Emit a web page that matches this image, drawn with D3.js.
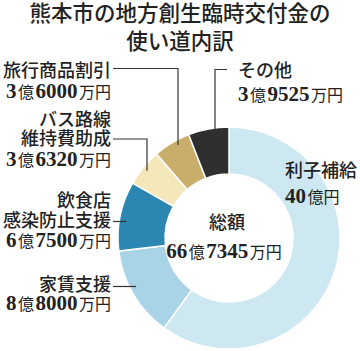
<!DOCTYPE html>
<html><head><meta charset="utf-8">
<script src="https://cdn.jsdelivr.net/npm/d3@7/dist/d3.min.js"></script>
<style>
html,body{margin:0;padding:0;background:#fff;}
svg{display:block;}
</style></head>
<body><svg id="chart" width="360" height="351"></svg>
<script>
// ---- data ----
const titleLines = ["熊本市の地方創生臨時交付金の", "使い道内訳"];
const categories = ["利子補給", "家賃支援", "飲食店感染防止支援", "バス路線維持費助成", "旅行商品割引", "その他"];
const categoryLines = [["利子補給"], ["家賃支援"], ["飲食店", "感染防止支援"], ["バス路線", "維持費助成"], ["旅行商品割引"], ["その他"]];
const values = [40, 8.8, 6.75, 3.632, 3.6, 3.9525]; // 億円
const amountParts = [
  [["40", "n"], ["億円", "u"]],
  [["8", "n"], ["億", "u"], ["8000", "n"], ["万円", "u"]],
  [["6", "n"], ["億", "u"], ["7500", "n"], ["万円", "u"]],
  [["3", "n"], ["億", "u"], ["6320", "n"], ["万円", "u"]],
  [["3", "n"], ["億", "u"], ["6000", "n"], ["万円", "u"]],
  [["3", "n"], ["億", "u"], ["9525", "n"], ["万円", "u"]]
];
const totalLabel = "総額";
const totalParts = [["66", "n"], ["億", "u"], ["7345", "n"], ["万円", "u"]];
const colors = ["#cde8f1", "#a9d3e7", "#2b87b2", "#f4e8bb", "#c9ad6b", "#2f2f2f"];

// ---- layout ----
const cx = 229, cy = 238, R = 111, r0 = 64;
const SANS = "'Noto Sans CJK JP', 'Noto Sans', sans-serif";
const SERIF = "'Liberation Serif', 'DejaVu Serif', serif";
const TEXT = "#222";
const labelLayout = [
  {anchor: "start", x: 285, ys: [170], ay: 195, leader: null},
  {anchor: "end", x: 111, ys: [284.5], ay: 302.5, leader: {ly: 286.5, type: "h"}},
  {anchor: "end", x: 111, ys: [200.5, 220.5], ay: 239.5, leader: {ly: 221.5, type: "h"}},
  {anchor: "end", x: 111, ys: [119, 138.5], ay: 158, leader: {ly: 139, type: "elbow", vx: 147}},
  {anchor: "end", x: 111, ys: [70.5], ay: 90, leader: {ly: 68.5, type: "elbow", vx: 178}},
  {anchor: "start", x: 238, ys: [70], ay: 93.5, leader: {ly: 69.5, type: "elbowL", vx: 215, x0: 227}}
];
const OFF = 6.5; // baseline offset from visual center (≈0.36em)

const svg = d3.select("#chart");

// title (one text block, two lines)
const title = svg.append("text")
  .attr("text-anchor", "middle")
  .style("font-family", SANS).style("font-size", "21.5px").style("font-weight", 500)
  .style("fill", TEXT);
titleLines.forEach((t, i) => {
  title.append("tspan").attr("x", 180).attr("y", 13.5 + i * 28 + 7.7).text(t);
});

// donut
const pie = d3.pie().sort(null).value(d => d);
const arcs = pie(values);
const arc = d3.arc().innerRadius(r0).outerRadius(R);
const g = svg.append("g").attr("transform", `translate(${cx},${cy})`);
g.selectAll("path").data(arcs).enter().append("path")
  .attr("d", arc)
  .attr("fill", (d, i) => colors[i])
  .attr("stroke", "#fff").attr("stroke-width", 1.5);

function amountText(sel, parts, x, y) {
  parts.forEach(([t, k], j) => {
    const ts = sel.append("tspan")
      .style("font-family", k === "n" ? SERIF : SANS)
      .style("font-size", k === "n" ? "21px" : "16px")
      .style("font-weight", k === "n" ? 700 : 400)
      .text(t);
    if (j === 0) ts.attr("x", x).attr("y", y);
    else ts.attr("dx", 1.5);
  });
}

// labels: one text block per category
categories.forEach((c, i) => {
  const L = labelLayout[i];
  const lines = categoryLines[i];
  const block = svg.append("text")
    .attr("text-anchor", L.anchor)
    .style("fill", TEXT);
  lines.forEach((ln, j) => {
    block.append("tspan")
      .attr("x", L.x).attr("y", L.ys[j] + OFF)
      .style("font-family", SANS).style("font-size", "18px").style("font-weight", 500)
      .text(ln);
  });
  amountText(block, amountParts[i], L.x, L.ay + 7.5);

  if (L.leader) {
    const ly = L.leader.ly;
    let pts;
    if (L.leader.type === "h") {
      const dy = ly - cy;
      const xe = cx - Math.sqrt(R * R - dy * dy) + 7;
      pts = [[L.x + 2, ly], [xe, ly]];
    } else {
      const dx = L.leader.vx - cx, rr = R - 5;
      const ye = cy - Math.sqrt(rr * rr - dx * dx);
      const x0 = L.leader.type === "elbow" ? L.x + 2 : L.leader.x0;
      pts = [[x0, ly], [L.leader.vx, ly], [L.leader.vx, ye]];
    }
    svg.append("path")
      .attr("d", d3.line()(pts))
      .attr("fill", "none").attr("stroke", "#333").attr("stroke-width", 1.2);
  }
});

// center total
const tot = svg.append("text").attr("text-anchor", "middle").style("fill", TEXT);
tot.append("tspan")
  .attr("x", cx - 2).attr("y", 222 + OFF)
  .style("font-family", SANS).style("font-size", "18px").style("font-weight", 500)
  .text(totalLabel);
// amount line centered separately
const tt = svg.append("text").attr("text-anchor", "middle").style("fill", TEXT);
amountText(tt, totalParts, cx - 5, 250 + 7.5);
</script>
</body></html>
